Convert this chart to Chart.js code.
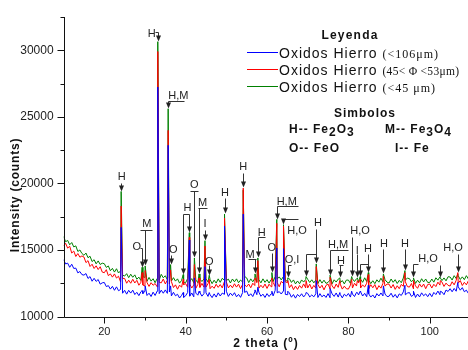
<!DOCTYPE html>
<html><head><meta charset="utf-8">
<script src="https://cdn.jsdelivr.net/npm/chart.js@4/dist/chart.umd.min.js"></script>
<style>
body{margin:0;background:#fff;}
#wrap{position:relative;width:468px;height:350px;overflow:hidden;font-family:"Liberation Sans",Arial,Helvetica,sans-serif;color:#111;}
canvas{position:absolute;left:0;top:0;}
.t{position:absolute;white-space:nowrap;line-height:16px;}
.b{font-weight:bold;font-size:12px;letter-spacing:1px;}
.row{position:absolute;left:279px;white-space:nowrap;line-height:16px;font-size:14px;letter-spacing:1px;}
.s{font-family:"Liberation Serif","Times New Roman",serif;font-size:12px;letter-spacing:1px;}
.ln{position:absolute;left:247px;width:31px;height:1px;}
.sub{position:relative;top:3px;}
</style></head>
<body><div id="wrap">
<canvas id="c" width="468" height="350"></canvas>
<div class="t b" style="left:290px;width:120px;text-align:center;top:27px;letter-spacing:1.2px">Leyenda</div>
<div class="ln" style="top:52px;background:#0000ff"></div>
<div class="ln" style="top:69px;background:#ff0000"></div>
<div class="ln" style="top:86px;background:#008000"></div>
<div class="row" style="top:45px">Oxidos Hierro <span class="s">(&lt;106μm)</span></div>
<div class="row" style="top:62px">Oxidos Hierro <span class="s" style="letter-spacing:0.3px;font-size:11.5px">(45&lt; Φ &lt;53μm)</span></div>
<div class="row" style="top:79px">Oxidos Hierro <span class="s">(&lt;45 μm)</span></div>
<div class="t b" style="left:305px;width:120px;text-align:center;top:105px">Simbolos</div>
<div class="t b" style="left:289px;top:121px">H-- Fe<span class="sub">2</span>O<span class="sub">3</span></div>
<div class="t b" style="left:385px;top:121px">M-- Fe<span class="sub">3</span>O<span class="sub">4</span></div>
<div class="t b" style="left:289px;top:140px">O-- FeO</div>
<div class="t b" style="left:395px;top:140px">I-- Fe</div>
<div class="t b" style="left:206px;width:120px;text-align:center;top:335px">2 theta (º)</div>
<div class="t b" style="left:-50px;width:130px;text-align:center;top:187px;transform:rotate(-90deg);letter-spacing:0.8px">Intensity (counts)</div>
</div>
<script>
// sampling grid: 10 to 109.5 in 0.5 degree steps
const gridStart = 10, gridStep = 0.5;
const blueBase = [
14270,13950,14010,13700,13930,13610,13640,13280,13380,13150,
13110,13230,12860,13000,12650,12870,12640,12780,12430,12530,
12560,12250,12320,12060,12270,11970,12230,11940,12030,11750,
11970,11680,11970,11760,11980,11650,11820,11570,11860,11720,
11910,11580,11750,11500,11830,11580,11910,11720,11980,11750,
12000,11740,11840,11550,11820,11560,11670,11390,11590,11440,
11560,11810,11530,11770,11480,11760,11600,11790,11530,11720,
11780,11510,11640,11420,11700,11460,11780,11540,11760,11670,
11900,11510,11760,11570,11790,11480,11660,11440,11800,11810,
11910,11540,11710,11500,11850,11640,11830,11520,11680,11430,
11720,11500,11700,11550,11960,11780,11870,11690,11910,11660,
11640,11770,11450,11650,11380,11660,11500,11710,11470,11660,
11740,11470,11620,11480,11710,11430,11720,11480,11620,11430,
11720,11410,11700,11510,11770,11460,11660,11400,11680,11530,
11730,11460,11690,11500,11810,11620,11850,11540,11740,11490,
11700,11460,11620,11390,11720,11540,11770,11550,11690,11500,
11520,11750,11450,11660,11400,11700,11580,11850,11630,11760,
11800,11510,11620,11430,11690,11470,11780,11560,11700,11490,
11740,11490,11810,11650,11910,11640,11840,11640,11990,11880,
12090,11860,12110,11900,12230,11980,12170,11860,11980,11730];
const redBase = [
15300,15500,15140,15280,14770,14920,14510,14730,14460,14550,
14470,14050,14200,13760,13930,13610,13810,13530,13740,13340,
13290,13520,13070,13200,12960,13200,12890,13030,12600,12860,
12860,12500,12730,12500,12800,12520,12720,12350,12570,12360,
12300,12550,12260,12540,12350,12480,12230,12570,12530,12820,
12450,12730,12440,12620,12180,12380,12050,12360,12200,12400,
12470,12200,12450,12140,12380,12120,12410,12190,12490,12210,
12210,12470,12090,12280,12120,12420,12190,12400,12150,12600,
12600,12150,12360,12160,12460,12210,12430,12100,12420,12380,
12240,12440,12160,12500,12330,12540,12130,12350,12160,12440,
12110,12430,12240,12560,12260,12560,12230,12640,12500,12600,
12550,12160,12390,12020,12280,12040,12330,12130,12450,12150,
12150,12430,12070,12340,12130,12400,12140,12350,12000,12340,
12440,12070,12300,12100,12440,12190,12430,12060,12280,12090,
12060,12360,12140,12500,12290,12520,12150,12370,12220,12500,
12090,12390,12160,12400,12020,12320,12130,12500,12280,12440,
12430,12140,12400,12040,12310,12090,12410,12270,12610,12250,
12210,12480,12080,12300,12120,12450,12210,12440,12090,12410,
12440,12140,12420,12250,12580,12360,12590,12260,12510,12340,
12290,12610,12380,12720,12510,12700,12330,12570,12380,12690];
const greenBase = [
16010,15620,15720,15390,15560,15230,15310,14890,15000,14740,
14600,14770,14420,14530,14130,14270,13960,14180,13910,14010,
13970,13690,13800,13440,13620,13340,13590,13270,13430,13110,
13040,13220,12920,13180,12950,13130,12800,12960,12710,12980,
12940,12650,12940,12660,12840,12540,12860,12750,13170,12910,
13060,12770,12920,12670,12920,12660,12830,12510,12710,12540,
12540,12860,12620,12850,12530,12750,12540,12810,12630,12820,
12830,12600,12780,12470,12730,12510,12830,12570,12870,12730,
12700,12810,12520,12820,12610,12830,12540,12740,12590,13010,
12900,12550,12830,12610,12860,12600,12760,12530,12830,12570,
12770,12510,12770,12630,13000,12820,12980,12750,12990,12740,
12640,12840,12560,12750,12450,12670,12460,12750,12590,12780,
12790,12560,12760,12530,12740,12480,12770,12510,12730,12490,
12560,12750,12460,12760,12590,12810,12540,12700,12450,12740,
12740,12490,12830,12630,12840,12600,12800,12570,12910,12630,
12750,12470,12690,12470,12760,12580,12880,12610,12770,12580,
12520,12820,12570,12770,12480,12720,12540,12890,12750,12880,
12850,12610,12770,12490,12730,12530,12840,12600,12820,12560,
12560,12820,12580,12910,12730,12980,12700,12900,12680,12990,
12970,12740,13070,12850,13060,12780,12980,12770,13070,12820];
// diffraction peaks (2 theta) and peak intensities
const peakPos   = [24.15,29.3,30.05,33.15,35.7,36.3,39.4,40.9,42.15,43.3,44.75,45.8,49.55,54.15,57.05,57.75,61.2,62.4,64.05,65.1,69.6,72.1,75.5,77.9,80.8,82.2,82.9,84.9,88.6,93.9,96.0,102.6,106.9];
const peakBlue  = [16700,11950,12300,27250,22870,12300,11800,15750,12900,11900,13750,11800,16800,17700,12000,12200,11900,15150,15100,11900,11800,12700,12100,11800,11900,11800,11900,12350,12300,12350,11900,11900,12560];
const peakRed   = [18300,13300,13450,29920,23990,13500,12800,15950,13900,12900,15300,12800,17400,19650,12900,14200,12900,17000,16800,12700,12700,13750,12950,12700,12800,12700,12800,13150,13050,13300,12700,12700,13300];
const peakGreen = [19400,13700,13800,30660,25620,13900,13150,16300,14400,13200,15700,13100,17700,19500,13200,14400,13300,17300,16900,12900,13000,13950,13100,12900,13000,12900,13000,13300,13200,13450,12900,12900,13200];
const seriesNames = ['Oxidos Hierro (<106μm)','Oxidos Hierro (45< Φ <53μm)','Oxidos Hierro (<45 μm)'];
const yTicksMajor = [10000,15000,20000,25000,30000];
const xTicksMajor = [20,40,60,80,100];

// peak labels (text, label position, lines, arrows) in data coordinates
const annotations = [
 {t:'H', x:24.28, y:20500, arrows:[[[24.15,20050],[24.15,19450]]]},
 {t:'H', x:31.66, y:31260, arrows:[[[32.5,31410],[33.15,31410],[33.15,30700]]]},
 {t:'H,M', x:38.2, y:26600, arrows:[[[39.6,26200],[35.7,26200],[35.7,25650]]]},
 {t:'O', x:27.97, y:15230, arrows:[[[28.7,15150],[29.3,15150],[29.3,13750]]]},
 {t:'M', x:30.43, y:16940, lines:[[[28.8,16490],[31.66,16490]]], arrows:[[[30.05,16490],[30.05,13850]]]},
 {t:'O', x:36.97, y:15010, arrows:[[[36.3,14640],[36.3,13950]]]},
 {t:'H', x:40.46, y:18130, arrows:[[[40.9,17680],[40.9,16350]],[[40.9,17680],[39.4,17680],[39.4,13200]]]},
 {t:'O', x:42.13, y:19900, lines:[[[41.07,19460],[43.04,19460]]], arrows:[[[42.15,19460],[42.15,14450]]]},
 {t:'M', x:44.19, y:18500, lines:[[[43.04,18125],[45.25,18125]]], arrows:[[[43.3,18125],[43.3,13250]]]},
 {t:'I', x:44.76, y:16940, arrows:[[[44.75,16500],[44.75,15750]]]},
 {t:'O', x:45.82, y:14120, arrows:[[[45.8,13900],[45.8,13150]]]},
 {t:'H', x:49.68, y:19310, arrows:[[[49.55,18900],[49.55,17750]]]},
 {t:'H', x:54.17, y:21240, arrows:[[[54.15,20800],[54.15,19700]]]},
 {t:'M', x:55.82, y:14600, lines:[[[55.26,14340],[57.3,14340]]], arrows:[[[57.05,14340],[57.05,13250]]]},
 {t:'H', x:58.7, y:16270, lines:[[[57.75,15970],[59.51,15970]]], arrows:[[[57.75,15970],[57.75,14450]]]},
 {t:'O', x:61.16, y:15160, arrows:[[[61.2,14750],[61.2,13350]]]},
 {t:'H,M', x:64.84, y:18644, lines:[[[62.4,18273],[67.62,18273]]], arrows:[[[62.4,18273],[62.4,17350]]]},
 {t:'H,O', x:67.37, y:16420, lines:[[[64.05,17310],[67.6,17310]]], arrows:[[[64.05,17310],[64.05,16950]]]},
 {t:'O,I', x:66.15, y:14267, lines:[[[65.1,13896],[66.0,13896]]], arrows:[[[65.1,13896],[65.1,12950]]]},
 {t:'H', x:72.54, y:17012, arrows:[[[72.1,16567],[72.1,14050]],[[72.1,14712],[69.6,14712],[69.6,13080]]]},
 {t:'H,M', x:77.45, y:15380, lines:[[[75.5,15009],[79.91,15009]]], arrows:[[[75.5,15009],[75.5,13150]]]},
 {t:'H', x:78.19, y:14192, lines:[[[77.6,13896],[78.7,13896]]], arrows:[[[77.9,13896],[77.9,12950]]]},
 {t:'H,O', x:82.86, y:16419, arrows:[[[80.8,16000],[80.8,13050]]]},
 {t:'I', x:82.2, y:14934, arrows:[[[82.2,14700],[82.2,12950]]]},
 {t:'H', x:84.83, y:15083, arrows:[[[84.9,14712],[84.9,13350]],[[84.9,13970],[82.9,13970],[82.9,13050]]]},
 {t:'H', x:88.76, y:15454, arrows:[[[88.6,15050],[88.6,13250]]]},
 {t:'H', x:93.92, y:15454, arrows:[[[93.9,15050],[93.9,13500]]]},
 {t:'H,O', x:99.58, y:14341, arrows:[[[97.12,13970],[96.0,13970],[96.0,12950]],[[102.6,13900],[102.6,12950]]]},
 {t:'H,O', x:105.72, y:15157, arrows:[[[106.9,14700],[106.9,13350]]]}
];

function buildSeries(base, peaks){
  const pts = base.map((v,i)=>({x: gridStart + i*gridStep, y: v}));
  peakPos.forEach((p,i)=>pts.push({x:p, y:peaks[i]}));
  pts.sort((a,b)=>a.x-b.x);
  return pts;
}

const annotPlugin = {
  id:'annot',
  afterDatasetsDraw(chart){
    const {ctx, scales:{x, y}} = chart;
    ctx.save();
    ctx.strokeStyle = '#333'; ctx.fillStyle = '#222'; ctx.lineWidth = 1;
    ctx.font = '11px "Liberation Sans", Arial, sans-serif';
    ctx.textAlign = 'center'; ctx.textBaseline = 'middle';
    const P = p => [Math.round(x.getPixelForValue(p[0]))+0.5, Math.round(y.getPixelForValue(p[1]))+0.5];
    function poly(pts, arrow){
      const q = pts.map(P);
      ctx.beginPath();
      q.forEach((p,i)=>{
        let py = p[1];
        if (arrow && i===q.length-1) py -= 5;
        i ? ctx.lineTo(p[0], py) : ctx.moveTo(p[0], p[1]);
      });
      ctx.stroke();
      if (arrow){
        const t = q[q.length-1];
        ctx.beginPath();
        ctx.moveTo(t[0]-2.5, t[1]-6); ctx.lineTo(t[0]+2.5, t[1]-6); ctx.lineTo(t[0], t[1]); ctx.closePath();
        ctx.fill();
      }
    }
    for (const a of annotations){
      ctx.fillText(a.t, x.getPixelForValue(a.x), y.getPixelForValue(a.y));
      (a.lines||[]).forEach(l=>poly(l,false));
      (a.arrows||[]).forEach(l=>poly(l,true));
    }
    ctx.restore();
  }
};

const axesPlugin = {
  id:'axesDraw',
  afterDraw(chart){
    const {ctx, chartArea:a, scales:{x, y}} = chart;
    ctx.save();
    ctx.strokeStyle = '#111'; ctx.lineWidth = 1;
    const ax = Math.round(a.left)+0.5, ay = Math.round(a.bottom)+0.5;
    ctx.beginPath();
    ctx.moveTo(ax, Math.round(a.top)); ctx.lineTo(ax, ay); ctx.lineTo(a.right, ay);
    y.ticks.forEach(t=>{
      const py = Math.round(y.getPixelForValue(t.value))+0.5;
      const major = yTicksMajor.includes(t.value);
      ctx.moveTo(ax-(major?7:4), py); ctx.lineTo(ax, py);
    });
    x.ticks.forEach(t=>{
      if (t.value <= x.min) return;
      const px = Math.round(x.getPixelForValue(t.value))+0.5;
      const major = xTicksMajor.includes(t.value);
      ctx.moveTo(px, ay); ctx.lineTo(px, ay+(major?6:3));
    });
    ctx.stroke();
    ctx.restore();
  }
};

new Chart(document.getElementById('c'), {
  type:'line',
  data:{datasets:[
    {label:seriesNames[0], data:buildSeries(blueBase, peakBlue), borderColor:'#0000ff'},
    {label:seriesNames[1], data:buildSeries(redBase, peakRed), borderColor:'#ff0000'},
    {label:seriesNames[2], data:buildSeries(greenBase, peakGreen), borderColor:'#008000'}
  ]},
  options:{
    responsive:false, animation:false, devicePixelRatio:1,
    layout:{padding:{top:13, left:0, right:0, bottom:0}},
    elements:{line:{borderWidth:1, tension:0, borderJoinStyle:'round'}, point:{radius:0}},
    plugins:{legend:{display:false}, tooltip:{enabled:false}},
    scales:{
      x:{type:'linear', min:10, max:109.4,
        afterFit(s){ s.height = 33.5; },
        grid:{display:false, drawTicks:false}, border:{display:false},
        ticks:{stepSize:10, includeBounds:false, autoSkip:false, maxRotation:0, padding:9,
          color:'#222', font:{family:'"Liberation Sans", Arial, sans-serif', size:11},
          callback:v=>xTicksMajor.includes(v)?String(v):''}
      },
      y:{type:'linear', min:10000, max:32500,
        afterFit(s){ s.width = 63.6; },
        grid:{display:false, drawTicks:false}, border:{display:false},
        ticks:{stepSize:2500, autoSkip:false, padding:10,
          color:'#222', font:{family:'"Liberation Sans", Arial, sans-serif', size:12},
          callback:v=>yTicksMajor.includes(v)?String(v):''}
      }
    }
  },
  plugins:[annotPlugin, axesPlugin]
});
</script>
</body></html>
